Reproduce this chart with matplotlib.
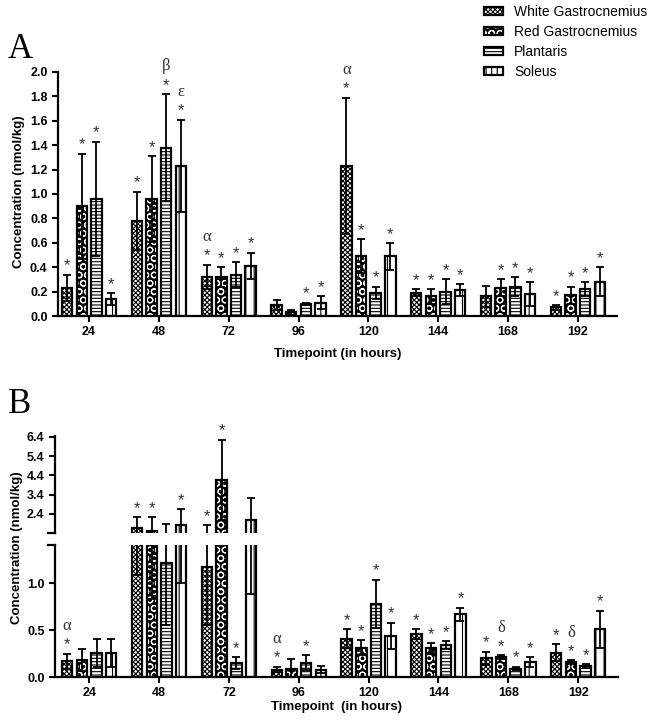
import numpy as np
import matplotlib
matplotlib.use("Agg")
import matplotlib.pyplot as plt
from matplotlib.patches import Patch

plt.rcParams['font.family'] = ['Liberation Sans', 'DejaVu Sans']
plt.rcParams['hatch.linewidth'] = 0.8

timepoints = ['24', '48', '72', '96', '120', '144', '168', '192']
muscles = ['White Gastrocnemius', 'Red Gastrocnemius', 'Plantaris', 'Soleus']

# panel A: means and error (SEM) per muscle, one value per timepoint
a_wg = [0.23, 0.78, 0.32, 0.09, 1.23, 0.19, 0.16, 0.07]
a_wg_err = [0.11, 0.24, 0.10, 0.04, 0.56, 0.03, 0.09, 0.02]
a_rg = [0.90, 0.96, 0.32, 0.03, 0.49, 0.16, 0.23, 0.17]
a_rg_err = [0.43, 0.35, 0.08, 0.02, 0.14, 0.06, 0.07, 0.07]
a_pl = [0.96, 1.38, 0.34, 0.10, 0.19, 0.20, 0.24, 0.22]
a_pl_err = [0.47, 0.44, 0.10, 0.01, 0.05, 0.10, 0.08, 0.06]
a_so = [0.14, 1.23, 0.41, 0.11, 0.49, 0.21, 0.18, 0.28]
a_so_err = [0.05, 0.38, 0.11, 0.05, 0.11, 0.05, 0.10, 0.12]

# panel B
b_wg = [0.17, 1.66, 1.18, 0.08, 0.41, 0.46, 0.20, 0.26]
b_wg_err = [0.08, 0.57, 0.62, 0.03, 0.10, 0.05, 0.07, 0.09]
b_rg = [0.18, 1.53, 4.16, 0.09, 0.31, 0.31, 0.21, 0.16]
b_rg_err = [0.12, 0.70, 2.10, 0.10, 0.08, 0.05, 0.02, 0.02]
b_pl = [0.26, 1.22, 0.15, 0.15, 0.78, 0.34, 0.09, 0.12]
b_pl_err = [0.15, 0.66, 0.06, 0.08, 0.26, 0.04, 0.02, 0.02]
b_so = [0.26, 1.83, 2.06, 0.08, 0.44, 0.67, 0.16, 0.51]
b_so_err = [0.15, 0.83, 1.17, 0.04, 0.14, 0.07, 0.05, 0.20]

# significance marks (1 = asterisk) and extra greek letters
a_stars = [[1, 1, 1, 0, 1, 1, 0, 1],
           [1, 1, 1, 0, 1, 1, 1, 1],
           [1, 1, 1, 1, 1, 1, 1, 1],
           [1, 1, 1, 1, 1, 1, 1, 1]]
a_greek = [['', '', 'α', '', 'α', '', '', ''],
           ['', '', '', '', '', '', '', ''],
           ['', 'β', '', '', '', '', '', ''],
           ['', 'ε', '', '', '', '', '', '']]
b_stars = [[1, 1, 1, 1, 1, 1, 1, 1],
           [0, 1, 1, 0, 1, 1, 1, 1],
           [0, 0, 1, 1, 1, 1, 1, 1],
           [0, 1, 0, 0, 1, 1, 1, 1]]
b_greek = [['α', '', '', 'α', '', '', '', ''],
           ['', '', '', '', '', '', 'δ', 'δ'],
           ['', '', '', '', '', '', '', ''],
           ['', '', '', '', '', '', '', '']]

x = np.arange(len(timepoints))
width = 0.15
offsets = (np.arange(4) - 1.5) * 0.21
hatches = ['xxxxxxx', 'OO', '-----', '||']
serif = ['Liberation Serif', 'DejaVu Serif']


def draw_bars(ax, means, errs):
    for i in range(4):
        xs = x + offsets[i]
        if i == 1:
            ax.bar(xs, means[i], width, color='black', edgecolor='white', hatch=hatches[1], lw=0)
            ax.bar(xs, means[i], width, facecolor='none', edgecolor='black', lw=1.6)
        else:
            ax.bar(xs, means[i], width, facecolor='white', edgecolor='black',
                   hatch=hatches[i], lw=1.6)
        ax.errorbar(xs, means[i], yerr=errs[i], fmt='none', ecolor='black',
                    elinewidth=1.3, capsize=3, capthick=1.3)


def annotate(ax_for, means, errs, stars, greek):
    for i in range(4):
        for j in range(len(timepoints)):
            top = means[i][j] + errs[i][j]
            ax = ax_for(top)
            xs = x[j] + offsets[i]
            if stars[i][j]:
                ax.annotate('*', (xs, top), xytext=(0, 3), textcoords='offset points',
                            ha='center', va='baseline', fontsize=12, color='#333333')
            if greek[i][j]:
                ax.annotate(greek[i][j], (xs, top), xytext=(0, 17), textcoords='offset points',
                            ha='center', va='baseline', fontsize=12, color='#333333',
                            family=serif)


def style(ax, spines):
    for s in ['top', 'right', 'left', 'bottom']:
        ax.spines[s].set_visible(s in spines)
        ax.spines[s].set_linewidth(1.6)
    ax.tick_params(width=1.5, length=4, labelsize=9)
    for lab in ax.get_xticklabels() + ax.get_yticklabels():
        lab.set_fontweight('bold')


fig = plt.figure(figsize=(6.53, 7.22), dpi=100)
W, H = 653, 722

# ---- panel A
axA = fig.add_axes([58 / W, 1 - 316 / H, (617 - 58) / W, (316 - 72) / H])
draw_bars(axA, [a_wg, a_rg, a_pl, a_so], [a_wg_err, a_rg_err, a_pl_err, a_so_err])
annotate(lambda v: axA, [a_wg, a_rg, a_pl, a_so], [a_wg_err, a_rg_err, a_pl_err, a_so_err],
         a_stars, a_greek)
axA.set_xlim(-0.445, 7.56)
axA.set_ylim(0, 2.0)
axA.set_yticks(np.arange(0, 2.01, 0.2))
axA.set_yticklabels(['%.1f' % v for v in np.arange(0, 2.01, 0.2)])
axA.set_xticks(x)
axA.set_xticklabels(timepoints)
style(axA, ['left', 'bottom'])
axA.set_xlabel('Timepoint (in hours)', fontsize=9.5, fontweight='bold', labelpad=7)
fig.text(19 / W, 1 - 192 / H, 'Concentration (nmol/kg)', rotation=90, ha='center',
         va='center', fontsize=9.5, fontweight='bold')
fig.text(8 / W, 1 - 58 / H, 'A', fontsize=25, family=serif)

# ---- panel B (broken y axis)
axBu = fig.add_axes([55 / W, 1 - 533 / H, (618 - 55) / W, (533 - 436) / H])
axBl = fig.add_axes([55 / W, 1 - 677 / H, (618 - 55) / W, (677 - 545) / H])
b_means = [b_wg, b_rg, b_pl, b_so]
b_errs = [b_wg_err, b_rg_err, b_pl_err, b_so_err]
for ax in (axBu, axBl):
    draw_bars(ax, b_means, b_errs)
    ax.set_xlim(-0.49, 7.57)
    ax.set_xticks(x)
axBl.set_ylim(0, 1.41)
axBu.set_ylim(1.4, 6.45)
annotate(lambda v: axBu if v > 1.4 else axBl, b_means, b_errs, b_stars, b_greek)
axBl.set_yticks([0, 0.5, 1.0])
axBl.set_yticklabels(['0.0', '0.5', '1.0'])
axBu.set_yticks([2.4, 3.4, 4.4, 5.4, 6.4])
axBu.set_yticklabels(['2.4', '3.4', '4.4', '5.4', '6.4'])
axBl.set_xticklabels(timepoints)
style(axBu, ['left'])
style(axBl, ['left', 'bottom'])
axBu.tick_params(axis='x', bottom=False, labelbottom=False)
# break caps on the left spine
axBu.plot([-0.012, 0], [0, 0], transform=axBu.transAxes, color='black', lw=1.6, clip_on=False)
axBl.plot([-0.012, 0], [1, 1], transform=axBl.transAxes, color='black', lw=1.6, clip_on=False)
axBl.set_xlabel('Timepoint  (in hours)', fontsize=9.5, fontweight='bold', labelpad=1)
fig.text(17 / W, 1 - 548 / H, 'Concentration (nmol/kg)', rotation=90, ha='center',
         va='center', fontsize=9.5, fontweight='bold')
fig.text(8 / W, 1 - 413 / H, 'B', fontsize=25, family=serif)

# ---- legend
handles = [Patch(facecolor='white', edgecolor='black', hatch=hatches[0], lw=1.6),
           (Patch(facecolor='black', edgecolor='white', hatch=hatches[1], lw=0),
            Patch(facecolor='none', edgecolor='black', lw=1.6)),
           Patch(facecolor='white', edgecolor='black', hatch=hatches[2], lw=1.6),
           Patch(facecolor='white', edgecolor='black', hatch='|||', lw=1.6)]
fig.legend(handles, muscles, loc='upper left', bbox_to_anchor=(484 / W, 1 - 5 / H),
           frameon=False, fontsize=10, handlelength=1.4, handleheight=0.5,
           handletextpad=0.75, labelspacing=0.44, borderpad=0, borderaxespad=0)

fig.savefig('out.png', dpi=100)
